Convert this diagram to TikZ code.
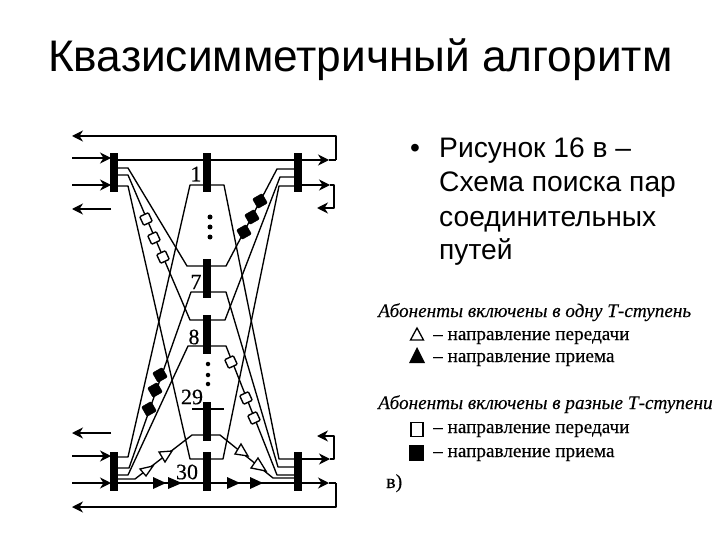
\documentclass[tikz,border=0pt]{standalone}
\usepackage{fontspec}
\setmainfont{Liberation Sans}
\newfontfamily\serif{Liberation Serif}
\newfontfamily\serifb[FakeBold=0.35]{Liberation Serif}
\newfontfamily\serifi[FakeBold=0.25,ItalicFont={Liberation Serif Italic}]{Liberation Serif}
\usetikzlibrary{arrows.meta}
\tikzset{
  x=1pt,y=-1pt,
  bar/.style={fill=black,draw=none,minimum width=8pt,minimum height=39pt,inner sep=0pt},
  wire/.style={draw=black,line width=1.35pt,line join=round},
  arr/.style={wire,-{Stealth[length=11pt,width=11pt,inset=3.5pt]}},
  wsq/.style={draw=black,fill=white,line width=1.4pt,minimum size=9.5pt,inner sep=0pt,rotate=25,rounded corners=1pt},
  bsq/.style={draw=black,fill=black,minimum size=11pt,inner sep=0pt,rotate=30,rounded corners=1pt},
  tri/.style={draw=black,fill=white,line width=1.3pt,line join=miter},
  ftri/.style={fill=black,draw=none},
  dot/.style={circle,fill=black,minimum size=5pt,inner sep=0pt},
  num/.style={font=\serifb\fontsize{22}{22}\selectfont,inner sep=0pt},
  titletext/.style={font=\fontsize{44.2}{44}\selectfont,anchor=base west,inner sep=0pt},
  body/.style={font=\fontsize{28.2}{28}\selectfont,anchor=base west,inner sep=0pt},
  leghead/.style={font=\serifi\itshape\fontsize{19.2}{19}\selectfont,anchor=base west,inner sep=0pt},
  legtext/.style={font=\serifb\fontsize{19.2}{19}\selectfont,anchor=base west,inner sep=0pt},
}
\begin{document}
\begin{tikzpicture}
\useasboundingbox (0,0) rectangle (720,540);
\fill[white] (0,0) rectangle (720,540);
% bars
\node[bar] (LT) at (114,172.5) {};
\node[bar] (C1) at (207,172.5) {};
\node[bar] (RT) at (298,172.5) {};
\node[bar] (C7) at (207,278.5) {};
\node[bar] (C8) at (207,334) {};
\node[bar] (C29) at (207,421) {};
\node[bar] (C30) at (207,471) {};
\node[bar] (LB) at (114,471) {};
\node[bar] (RB) at (298,471) {};
% free ends
\coordinate (a1) at (72,136); \coordinate (a2) at (336,136); \coordinate (a3) at (336,160);
\coordinate (a4) at (329,160); \coordinate (i1) at (72,158); \coordinate (i1e) at (111,158);
\coordinate (i2) at (72,185); \coordinate (i2e) at (111,185);
\coordinate (o1) at (111,209); \coordinate (o1e) at (72,209);
\coordinate (r1) at (330,185); \coordinate (r2) at (334,185); \coordinate (r3) at (334,208); \coordinate (r4) at (317,208);
\coordinate (b1) at (72,507); \coordinate (b2) at (336,507); \coordinate (b3) at (336,483);
\coordinate (b4) at (329,483); \coordinate (j1) at (72,456); \coordinate (j1e) at (111,456);
\coordinate (j2) at (72,483); \coordinate (j2e) at (111,483);
\coordinate (p1) at (111,433); \coordinate (p1e) at (72,433);
\coordinate (s1) at (330,459); \coordinate (s2) at (334,459); \coordinate (s3) at (334,436); \coordinate (s4) at (317,436);
% outer arrows
\draw[arr] (a3) -- (a2) -- (a1);
\draw[arr] (LT.center |- a4) -- (a4);
\draw[wire] (a4) -- (a3);
\draw[arr] (i1) -- (i1e);
\draw[arr] (i2) -- (i2e);
\draw[arr] (o1) -- (o1e);
\draw[arr] (RT.center |- r1) -- (r1);
\draw[arr] (r1) -- (r2) -- (r3) -- (r4);
\draw[arr] (b3) -- (b2) -- (b1);
\draw[arr] (LB.center |- b4) -- (b4);
\draw[wire] (b4) -- (b3);
\draw[arr] (j1) -- (j1e);
\draw[arr] (j2) -- (j2e);
\draw[arr] (p1) -- (p1e);
\draw[arr] (RB.center |- s1) -- (s1);
\draw[arr] (s1) -- (s2) -- (s3) -- (s4);
% switching paths
\draw[wire] (LT.center |- 0,168) -- (128,168) -- (187,266) -- (226,266) -- (277,169) -- (RT.center |- 0,169);
\draw[wire] (LT.center |- 0,175) -- (128,175) -- (190,320) -- (225,320) -- (280,177) -- (RT.center |- 0,177);
\draw[wire] (LT.center |- 0,186) -- (128,186) -- (190,459) -- (223,459) -- (279,186) -- (RT.center |- 0,186);
\draw[wire] (LB.center |- 0,457) -- (128,457) -- (190,185) -- (224,185) -- (279,459) -- (RB.center |- 0,459);
\draw[wire] (LB.center |- 0,468) -- (129,468) -- (191,292) -- (226,292) -- (278,467) -- (RB.center |- 0,467);
\draw[wire] (LB.center |- 0,475) -- (128,475) -- (188,346) -- (226,346) -- (277,475) -- (RB.center |- 0,475);
\draw[wire] (LB.center |- 0,479) -- (135,479) -- (192,435) -- (220,435) -- (273,478) -- (RB.center |- 0,478);
\draw[wire] (192,409) -- (224,409);
% squares
\node[wsq] (w1) at (146,219) {};
\node[wsq] (w2) at (154,238) {};
\node[wsq] (w3) at (163,257) {};
\node[wsq] (w4) at (231,362) {};
\node[wsq] (w5) at (246,398) {};
\node[wsq] (w6) at (254,418) {};
\node[bsq] (k1) at (260,201) {};
\node[bsq] (k2) at (252,217) {};
\node[bsq] (k3) at (244,232) {};
\node[bsq] (k4) at (160,375) {};
\node[bsq] (k5) at (155,390) {};
\node[bsq] (k6) at (149,409) {};
% triangles
\draw[tri] (140,469) -- (153,466) -- (146,476) -- cycle;
\draw[tri] (159,452) -- (172,451) -- (165,462) -- cycle;
\draw[tri] (241,444) -- (248,456) -- (235,454) -- cycle;
\draw[tri] (258,458) -- (266,471) -- (251,468) -- cycle;
\fill[ftri] (153,477) -- (166,483) -- (153,489) -- cycle;
\fill[ftri] (168,477) -- (182,483) -- (168,489) -- cycle;
\fill[ftri] (227,477) -- (240,483) -- (227,489) -- cycle;
\fill[ftri] (250,477) -- (263,483) -- (250,489) -- cycle;
% dots
\node[dot] (d1) at (210,217) {};
\node[dot] (d2) at (210,227) {};
\node[dot] (d3) at (210,237) {};
\node[dot,minimum size=4.5pt] (d4) at (208,364) {};
\node[dot,minimum size=4.5pt] (d5) at (208,375) {};
\node[dot,minimum size=4.5pt] (d6) at (208,384) {};
% numbers
\node[num] (n1) at (196,174) {1};
\node[num] (n7) at (196,282) {7};
\node[num] (n8) at (194,337) {8};
\node[num] (n29) at (192,397) {29};
\node[num] (n30) at (187,472) {30};
% text
\node[titletext] (title) at (48,72) {Квазисимметричный алгоритм};
\node[body] (bul) at (410,158) {•};
\node[body] (t1) at (439,158) {Рисунок 16 в –};
\node[body] (t2) at (439,192) {Схема поиска пар};
\node[body] (t3) at (439,226) {соединительных};
\node[body] (t4) at (439,259) {путей};
% legend
\node[leghead] (h1) at (378,317) {Абоненты включены в одну Т-ступень};
\node[legtext] (l1) at (433,340) {– направление передачи};
\node[legtext] (l2) at (433,362) {– направление приема};
\node[leghead] (h2) at (378,409) {Абоненты включены в разные Т-ступени};
\node[legtext] (l3) at (433,433) {– направление передачи};
\node[legtext] (l4) at (433,457) {– направление приема};
\draw[tri] (417,328) -- (423.5,340) -- (410.5,340) -- cycle;
\fill[ftri] (417,347) -- (425,363) -- (409,363) -- cycle;
\draw[tri,line width=1.4pt] (411,422.5) rectangle (423,436.5);
\fill[ftri] (409,445) rectangle (424,461);
\node[legtext,font=\serifb\fontsize{20}{20}\selectfont] (lv) at (386,488) {в)};
\end{tikzpicture}
\end{document}
